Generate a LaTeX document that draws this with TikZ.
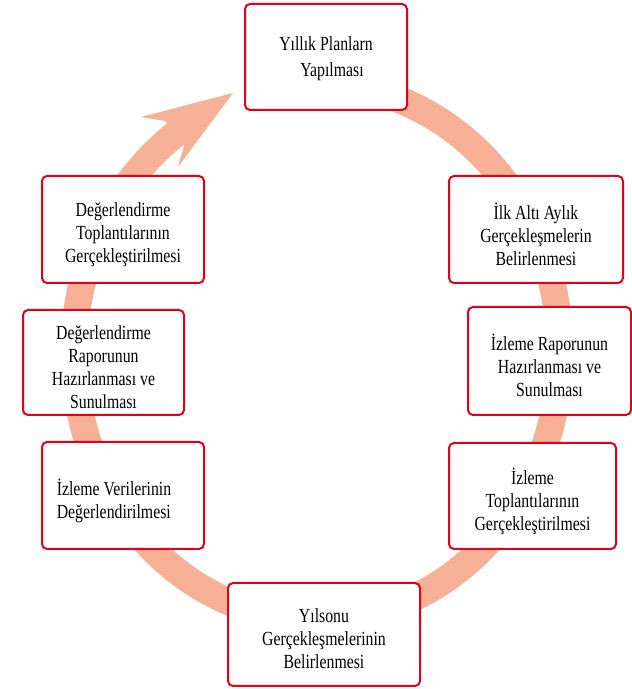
\documentclass[tikz,border=0pt]{standalone}
\usepackage{fontspec}
\setmainfont{Liberation Serif}[FakeStretch=0.79]
\definecolor{ringc}{RGB}{246,176,150}
\definecolor{boxred}{RGB}{226,0,26}
\begin{document}
\begin{tikzpicture}[x=1pt,y=1pt,
  stepbox/.style={draw=boxred, line width=2pt, rounded corners=5pt, fill=white, inner sep=0pt},
  steptext/.style={align=center, inner sep=0pt, font=\fontsize{20}{23}\selectfont},
  ringline/.style={draw=ringc, line width=27pt}]
\useasboundingbox (0,0) rectangle (632,689);
% ring
\coordinate (rs) at (317,605);
\draw[ringline] (rs) arc[start angle=90, end angle=-236, x radius=243, y radius=268];
\coordinate (n1) at (165,568);
\coordinate (b1) at (141,572);
\coordinate (tip) at (233,596);
\coordinate (b2) at (178,522);
\coordinate (n2) at (184,543);
\fill[ringc] (n1) -- (b1) -- (tip) -- (b2) -- (n2) -- cycle;
% boxes
\node[stepbox, minimum width=162pt, minimum height=106pt] (p1) at (326,632) {};
\node[steptext] (t1) at ([yshift=-2pt]p1.center) {Yıllık Planlarn\\[3pt] \hspace*{12pt}Yapılması};
\node[stepbox, minimum width=174pt, minimum height=107pt] (p2) at (536,459.5) {};
\node[steptext] (t2) at ([yshift=-5pt]p2.center) {İlk Altı Aylık\\Gerçekleşmelerin\\Belirlenmesi};
\node[stepbox, minimum width=163pt, minimum height=108pt] (p3) at (549.5,328) {};
\node[steptext] (t3) at ([yshift=-4pt]p3.center) {İzleme Raporunun\\Hazırlanması ve\\Sunulması};
\node[stepbox, minimum width=167pt, minimum height=106pt] (p4) at (532.5,193) {};
\node[steptext] (t4) at ([yshift=-5pt]p4.center) {İzleme\\Toplantılarının\\Gerçekleştirilmesi};
\node[stepbox, minimum width=192pt, minimum height=103pt] (p5) at (324,54.5) {};
\node[steptext] (t5) at ([yshift=-4pt]p5.center) {Yılsonu\\Gerçekleşmelerinin\\Belirlenmesi};
\node[stepbox, minimum width=162pt, minimum height=107pt] (p6) at (123,193.5) {};
\node[steptext, align=left] (t6) at ([xshift=-9pt,yshift=-5pt]p6.center) {İzleme Verilerinin\\Değerlendirilmesi};
\node[stepbox, minimum width=161pt, minimum height=105pt] (p7) at (103.5,326.5) {};
\node[steptext] (t7) at ([yshift=-5pt]p7.center) {Değerlendirme\\Raporunun\\Hazırlanması ve\\Sunulması};
\node[stepbox, minimum width=162pt, minimum height=107pt] (p8) at (123,459.5) {};
\node[steptext] (t8) at ([yshift=-5pt]p8.center) {Değerlendirme\\Toplantılarının\\Gerçekleştirilmesi};
\end{tikzpicture}
\end{document}
